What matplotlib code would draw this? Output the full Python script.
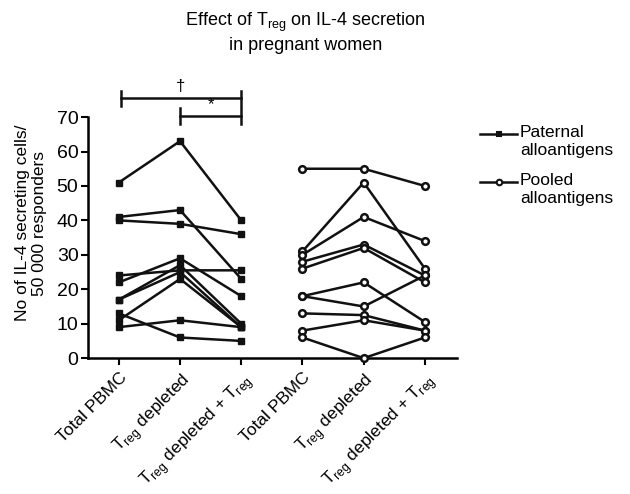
import matplotlib
matplotlib.use('Agg')
import matplotlib.pyplot as plt
from matplotlib.lines import Line2D

plt.rcParams['font.family'] = ['Liberation Sans', 'DejaVu Sans']

# x categories (two groups of three conditions)
conditions = ['Total PBMC', r'T$_\mathregular{reg}$ depleted',
              r'T$_\mathregular{reg}$ depleted + T$_\mathregular{reg}$']
tick_labels = conditions + conditions

# IL-4 secreting cells per 50 000 responders, one row per woman
paternal = [
    [51, 63, 40],
    [41, 43, 23],
    [40, 39, 36],
    [24, 25.5, 25.5],
    [22, 29, 18],
    [17, 27, 10],
    [17, 25, 9],
    [13, 6, 5],
    [11, 23, 9],
    [9, 11, 9],
]
pooled = [
    [55, 55, 50],
    [31, 51, 26],
    [30, 41, 34],
    [28, 33, 24],
    [26, 32, 22],
    [18, 22, 10.5],
    [18, 15, 24],
    [13, 12.5, 8],
    [8, 11, 8],
    [6, 0, 6],
]
legend_labels = ['Paternal\nalloantigens', 'Pooled\nalloantigens']

fig = plt.figure(figsize=(6.3, 4.94), dpi=100)
ax = fig.add_axes([0.14, 0.275, 0.585, 0.488])

for row in paternal:
    ax.plot([0, 1, 2], row, color='#111111', lw=1.8, marker='s', ms=4,
            clip_on=False, zorder=3)
for row in pooled:
    ax.plot([3, 4, 5], row, color='#111111', lw=1.8, marker='o', ms=4.8,
            mfc='white', mec='#111111', mew=1.8, clip_on=False, zorder=3)

ax.set_xlim(-0.5, 5.52)
ax.set_ylim(0, 70)
ax.set_yticks(range(0, 71, 10))
ax.set_xticks(range(6))
ax.set_xticklabels(tick_labels, rotation=45, ha='right', rotation_mode='anchor',
                   fontsize=12.5)
ax.tick_params(axis='y', labelsize=14, width=1.5, length=5, direction='out',
               pad=2)
ax.tick_params(axis='x', width=1.5, length=5, direction='out')
for s in ['top', 'right']:
    ax.spines[s].set_visible(False)
for s in ['left', 'bottom']:
    ax.spines[s].set_linewidth(1.8)

ax.set_ylabel('No of IL-4 secreting cells/\n50 000 responders', fontsize=12.5,
              linespacing=1.1, va='center')
ax.yaxis.set_label_coords(-0.155, 0.56)

# significance brackets
def bracket(x0, x1, y, label):
    ax.plot([x0, x1], [y, y], color='#111111', lw=1.8, clip_on=False)
    ax.plot([x0, x0], [y - 2.2, y + 2.2], color='#111111', lw=1.8, clip_on=False)
    ax.plot([x1, x1], [y - 2.2, y + 2.2], color='#111111', lw=1.8, clip_on=False)
    ax.text((x0 + x1) / 2, y + 1.2, label, ha='center', va='bottom',
            fontsize=12)

bracket(0.03, 2, 75.5, '\u2020')
bracket(1, 2, 70.3, '*')

fig.text(0.485, 0.935, r'Effect of T$_\mathregular{reg}$ on IL-4 secretion'
         '\nin pregnant women', ha='center', va='center', fontsize=13,
         linespacing=1.2)

# legend drawn by hand so the handle sits on the first text line
W, H = 630.0, 494.0
handles = [dict(marker='s', ms=3.5, mfc='#111111'),
           dict(marker='o', ms=4, mfc='white')]
for i, (lab, st) in enumerate(zip(legend_labels, handles)):
    y_line = 134 + i * 48
    fig.add_artist(Line2D([480 / W, 517 / W], [1 - y_line / H] * 2,
                          color='#111111', lw=1.8))
    fig.add_artist(Line2D([498.5 / W], [1 - y_line / H], color='#111111',
                          mec='#111111', mew=1.5, **st))
    fig.text(520 / W, 1 - (y_line - 9) / H, lab, ha='left', va='top',
             fontsize=12.5, linespacing=1.25)

fig.savefig('out.png', dpi=100)
